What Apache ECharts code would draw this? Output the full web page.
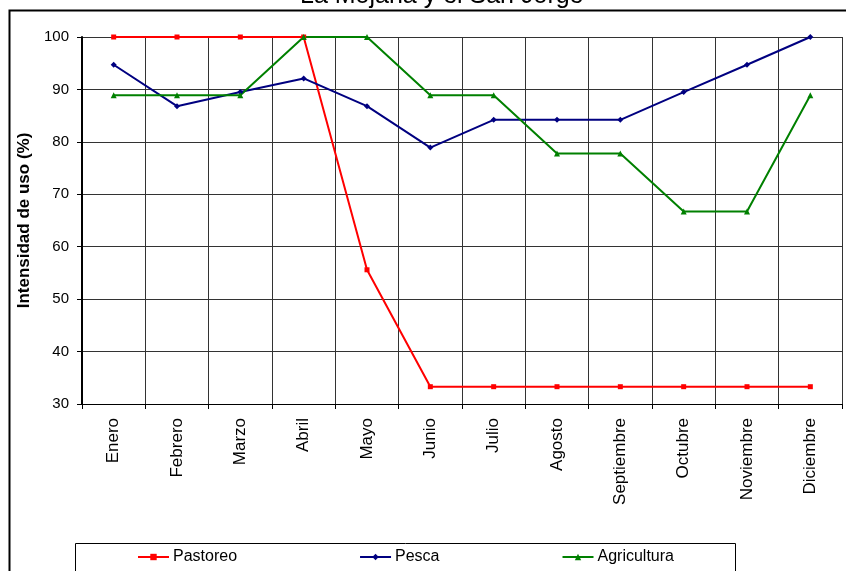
<!DOCTYPE html>
<html>
<head>
<meta charset="utf-8">
<script src="https://cdn.jsdelivr.net/npm/echarts@6/dist/echarts.min.js"></script>
<style>
  html, body { margin: 0; padding: 0; background: #fff; }
  #chart { width: 846px; height: 571px; }
</style>
</head>
<body>
<div id="chart"></div>
<script>
// meses y series
const meses = ['Enero', 'Febrero', 'Marzo', 'Abril', 'Mayo', 'Junio', 'Julio',
  'Agosto', 'Septiembre', 'Octubre', 'Noviembre', 'Diciembre']
const pastoreo = [100, 100, 100, 100, 55.6, 33.3, 33.3, 33.3, 33.3, 33.3, 33.3, 33.3]
const pesca = [94.7, 86.8, 89.5, 92.1, 86.8, 78.9, 84.2, 84.2, 84.2, 89.5, 94.7, 100]
const agricultura = [88.9, 88.9, 88.9, 100, 100, 88.9, 88.9, 77.8, 77.8, 66.7, 66.7, 88.9]
const yTicks = { min: 30, max: 100, interval: 10 }

const font = 'Liberation Sans, Arial, sans-serif'
const chart = echarts.init(document.getElementById('chart'))

const serie = (name, data, color, symbol, size) => ({
  name, type: 'line', data, symbol, symbolSize: size,
  lineStyle: { color, width: 2 },
  itemStyle: { color },
  animation: false
})

chart.setOption({
  backgroundColor: '#fff',
  textStyle: { fontFamily: font },
  title: {
    text: 'La Mojana y el San Jorge',
    left: 295, top: -21,
    textStyle: { fontSize: 25, fontWeight: 'normal', color: '#000', fontFamily: font }
  },
  graphic: [
    { type: 'rect', left: 7, top: 8, shape: { width: 845, height: 570 },
      style: { fill: 'none', stroke: '#000', lineWidth: 2 }, z: -1 },
    { type: 'rect', left: 73, top: 541, shape: { width: 660, height: 28 },
      style: { fill: 'none', stroke: '#000', lineWidth: 1 }, z: -1 }
  ],
  legend: {
    left: 132, top: 544,
    itemWidth: 31, itemHeight: 8, itemGap: 122,
    textStyle: { fontSize: 16, color: '#000', fontFamily: font, padding: [0, 0, 0, -1] }
  },
  grid: { left: 82, right: 4, top: 37, bottom: 167 },
  xAxis: {
    type: 'category', data: meses, boundaryGap: true,
    axisLine: { lineStyle: { color: '#000', width: 1 } },
    axisTick: { show: true, length: 5, lineStyle: { color: '#000' } },
    axisLabel: { rotate: 90, fontSize: 17, color: '#000', margin: 14, interval: 0 },
    splitLine: { show: true, lineStyle: { color: '#333', width: 1 } }
  },
  yAxis: {
    type: 'value', ...yTicks,
    name: 'Intensidad de uso (%)', nameLocation: 'middle', nameGap: 48,
    nameTextStyle: { fontSize: 17, fontWeight: 'bold', color: '#000' },
    axisLine: { show: true, lineStyle: { color: '#000', width: 2 } },
    axisTick: { show: true, length: 5, lineStyle: { color: '#000' } },
    axisLabel: { fontSize: 15, color: '#000', margin: 13 },
    splitLine: { show: true, lineStyle: { color: '#333', width: 1 } }
  },
  series: [
    serie('Pastoreo', pastoreo, '#ff0000', 'rect', 5),
    serie('Pesca', pesca, '#000080', 'diamond', 6),
    serie('Agricultura', agricultura, '#008000', 'triangle', 6)
  ]
})
window.addEventListener('resize', () => chart.resize())
</script>
</body>
</html>
